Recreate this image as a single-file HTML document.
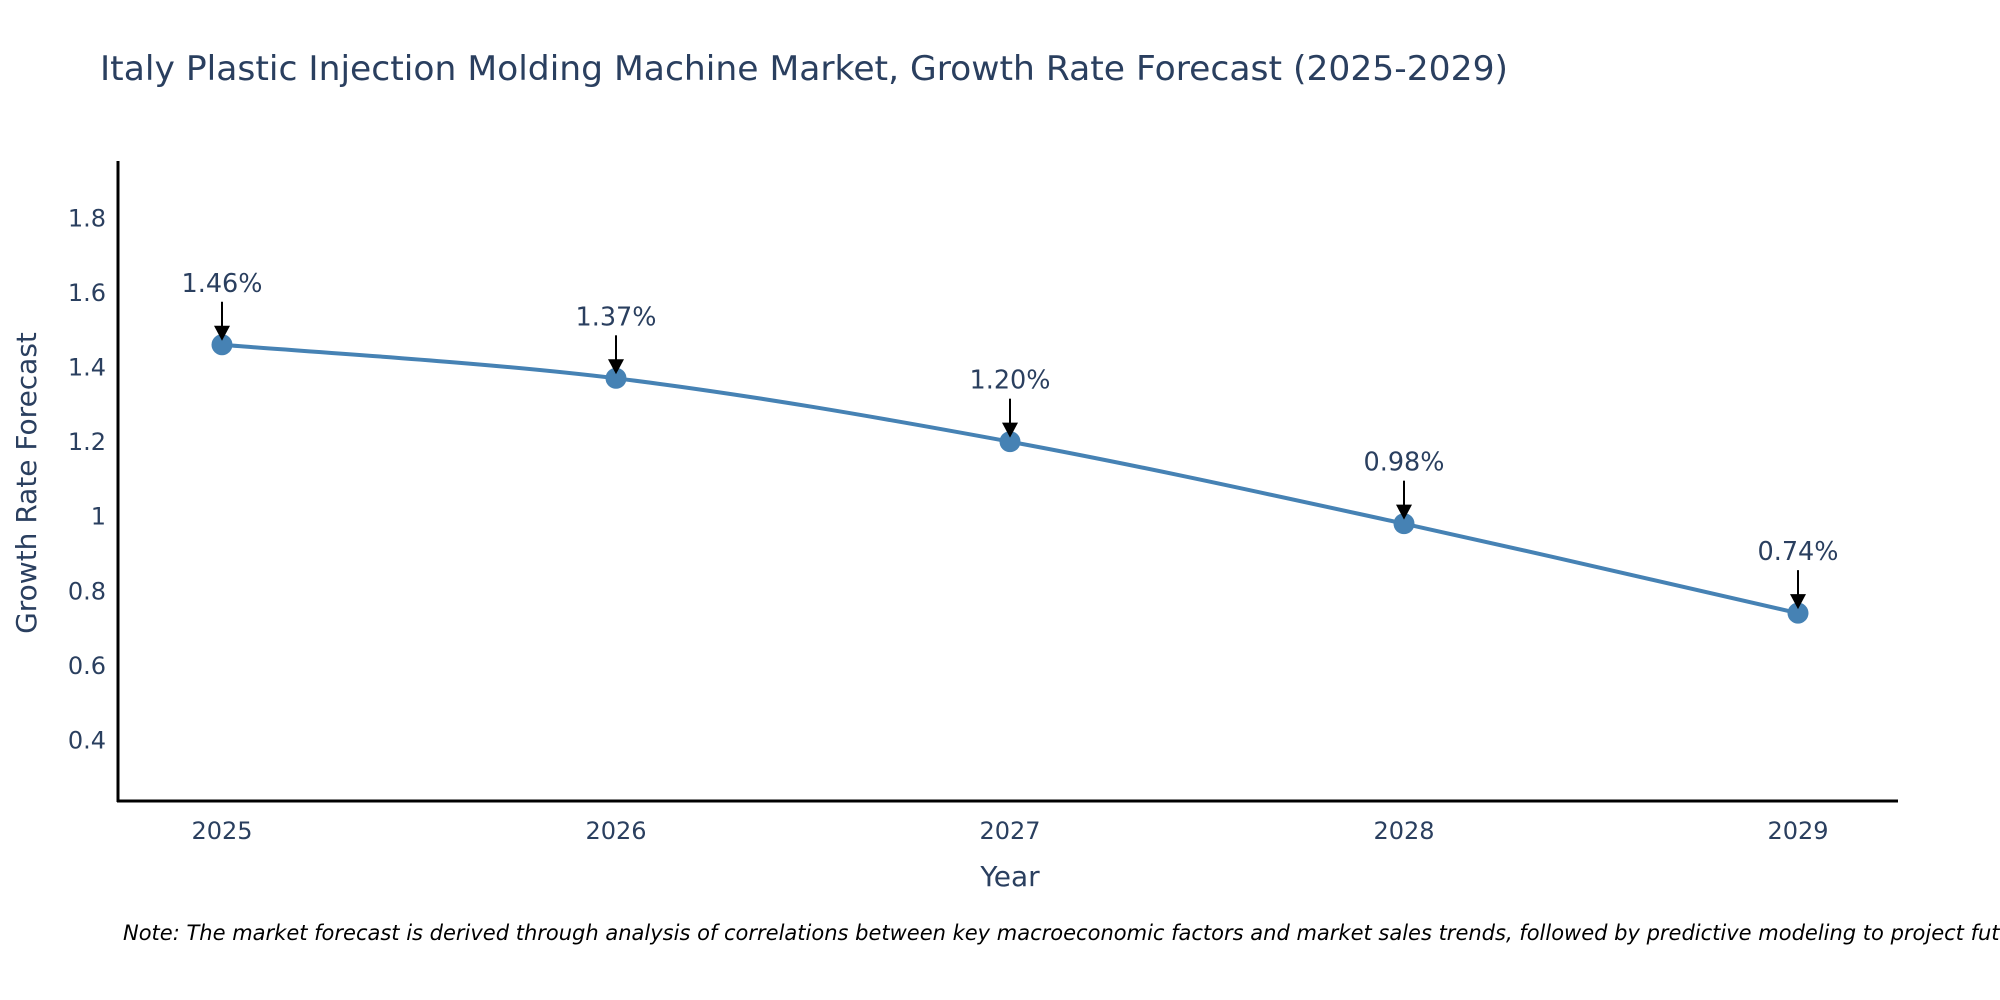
<!DOCTYPE html>
<html><head><meta charset="utf-8"><style>
html,body{margin:0;padding:0;background:#fff;width:2000px;height:1000px;overflow:hidden}
text{font-family:"DejaVu Sans","Liberation Sans",sans-serif;fill:#2a3f5f}
</style></head><body>
<svg id="chart" width="2000" height="1000" xmlns="http://www.w3.org/2000/svg">
<text x="100" y="80" font-size="34" textLength="1408" lengthAdjust="spacingAndGlyphs">Italy Plastic Injection Molding Machine Market, Growth Rate Forecast (2025-2029)</text>
<g id="plot"></g>
<text x="1010" y="886" font-size="28" text-anchor="middle">Year</text>
<text transform="translate(36,483) rotate(-90)" font-size="28" text-anchor="middle">Growth Rate Forecast</text>
<text x="123" y="940" font-size="21" font-style="italic" style="fill:#000">Note: The market forecast is derived through analysis of correlations between key macroeconomic factors and market sales trends, followed by predictive modeling to project future sales.</text>
</svg>
<script>
const years = [2025, 2026, 2027, 2028, 2029];
const growth = [1.46, 1.37, 1.20, 0.98, 0.74];
const labels = ["1.46%", "1.37%", "1.20%", "0.98%", "0.74%"];
const yTicks = [0.4, 0.6, 0.8, 1, 1.2, 1.4, 1.6, 1.8];

const NS = "http://www.w3.org/2000/svg";
const g = document.getElementById('plot');
const X0 = 118, X1 = 1898, Y0 = 161, Y1 = 801;
const yMin = 0.236, yMax = 1.953;
function xs(v){ return 222 + (v - years[0]) * (1798 - 222) / (years[years.length-1] - years[0]); }
function ys(v){ return Y1 - (v - yMin) / (yMax - yMin) * (Y1 - Y0); }
function mk(tag, attrs){ const e = document.createElementNS(NS, tag); for (const k in attrs) e.setAttribute(k, attrs[k]); g.appendChild(e); return e; }

yTicks.forEach(t => {
  const e = mk('text', {x: X0 - 12, y: ys(t) + 8.5, 'font-size': 24, 'text-anchor': 'end'});
  
  
  e.textContent = String(t);
});
years.forEach(yr => {
  const e = mk('text', {x: xs(yr), y: Y1 + 38, 'font-size': 24, 'text-anchor': 'middle'});
  
  
  e.textContent = String(yr);
});
const ya = mk('line', {x1: X0, y1: Y0, x2: X0, y2: Y1 + 1, stroke: '#000', 'stroke-width': 3});


const xa = mk('line', {x1: X0 - 1, y1: Y1, x2: X1, y2: Y1, stroke: '#000', 'stroke-width': 3});



const pts = years.map((yr, i) => [xs(yr), ys(growth[i])]);
let d = `M${pts[0][0]},${pts[0][1]}`;
for (let i = 0; i < pts.length - 1; i++) {
  const p0 = pts[i-1] || pts[i], p1 = pts[i], p2 = pts[i+1], p3 = pts[i+2] || p2;
  const s = 1/6;
  d += ` C${p1[0] + (p2[0]-p0[0])*s},${p1[1] + (p2[1]-p0[1])*s} ${p2[0] - (p3[0]-p1[0])*s},${p2[1] - (p3[1]-p1[1])*s} ${p2[0]},${p2[1]}`;
}
const line = mk('path', {d: d, fill: 'none', stroke: '#4682B4', 'stroke-width': 4});



pts.forEach((p, i) => {
  const c = mk('circle', {cx: p[0], cy: p[1], r: 10.5, fill: '#4682B4'});
  
  
  const a = mk('line', {x1: p[0], y1: p[1] - 43, x2: p[0], y2: p[1] - 16, stroke: '#000', 'stroke-width': 2});
  
  
  const h = mk('path', {d: `M${p[0]-8},${p[1]-19} L${p[0]+8},${p[1]-19} L${p[0]},${p[1]-4} Z`, fill: '#000'});
  
  
  const t = mk('text', {x: p[0], y: p[1] - 53, 'font-size': 25.5, 'text-anchor': 'middle'});
  
  
  t.textContent = labels[i];
});
</script>
</body></html>
